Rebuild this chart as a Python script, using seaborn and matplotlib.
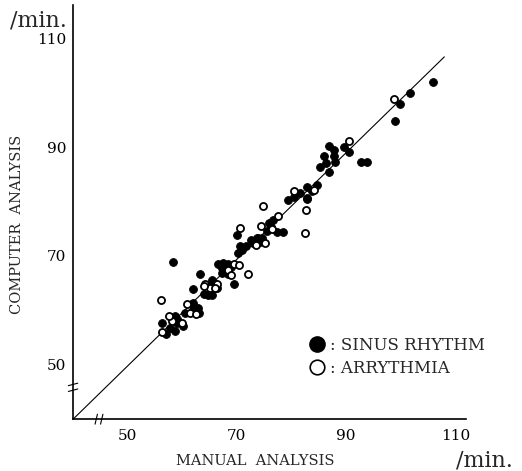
"""
Computer vs manual heart-rate analysis (scatter with identity line).
"""

import pandas as pd
import matplotlib.pyplot as plt
import seaborn as sns
from matplotlib.lines import Line2D

# Data (beats / min)
sinus_manual = [106, 101.8, 99.8, 98.9, 92.8, 93.9, 90.6, 89.7, 86.8, 85.9, 87.7, 87.7, 87.9,
                86.8, 84.6, 82.9, 82.8, 81.5, 79.4, 82.8, 76.7, 75.8, 76.3, 77.4, 78.5, 75.6,
                73.8, 74.6, 73.0, 70.1, 73.6, 74.3, 73.2, 70.6, 71.6, 71.0, 66.6, 67.5, 68.3,
                67.3, 67.8, 67.2, 68.4, 63.3, 69.4, 65.5, 65.7, 62.0, 64.8, 65.5, 66.4, 65.5,
                61.8, 62.0, 62.8, 62.0, 63.1, 58.7, 59.0, 58.3, 59.1, 60.2, 56.3, 57.8, 58.7,
                57.1, 58.3, 85.3, 86.3, 80.5, 83.8, 70.2, 69.0, 72.5, 64.0, 60.5]
sinus_computer = [102, 100, 98, 94.8, 87.2, 87.2, 89.2, 90.1, 90.3, 88.4, 89.4, 88.3, 87.2,
                  85.5, 83.1, 82.6, 80.6, 81.5, 80.2, 80.4, 76.6, 76.0, 75.3, 74.4, 74.4, 74.6,
                  73.3, 73.3, 72.4, 73.8, 73.3, 72.5, 72.5, 71.8, 71.8, 71.1, 68.5, 68.7, 68.5,
                  67.8, 67.6, 66.9, 66.7, 66.7, 64.9, 65.6, 64.9, 63.9, 62.9, 62.9, 64.1, 63.9,
                  61.2, 61.4, 60.5, 60.1, 59.6, 59.0, 58.5, 58.5, 57.7, 57.2, 57.7, 56.8, 56.3,
                  55.7, 68.9, 86.4, 87.0, 80.8, 82.0, 70.6, 68.0, 73.0, 63.0, 59.5]

arr_manual = [98.7, 90.6, 84.2, 74.7, 82.6, 77.6, 74.5, 82.4, 76.5, 75.2, 70.5, 69.5, 68.4,
              72.1, 64.2, 66.4, 65.1, 66.0, 63.9, 60.9, 56.1, 61.5, 62.6, 58.2, 60.0, 56.3,
              69.0, 70.3, 57.5, 73.5, 80.5]
arr_computer = [98.9, 91.2, 82.2, 79.1, 78.4, 77.3, 75.5, 74.2, 74.9, 72.4, 75.1, 68.5, 67.4,
                66.7, 64.9, 64.9, 64.1, 64.1, 64.5, 61.2, 61.9, 59.6, 59.4, 58.1, 57.7, 56.1,
                66.5, 68.3, 59.0, 72.0, 82.0]

# regression / identity line end points as drawn
line_x = [40, 108]
line_y = [40, 106.6]

x_ticks = [50, 70, 90, 110]
y_ticks = [50, 70, 90, 110]

sinus = pd.DataFrame({'manual': sinus_manual, 'computer': sinus_computer})
arr = pd.DataFrame({'manual': arr_manual, 'computer': arr_computer})

sns.set_style('white')
plt.rcParams['font.family'] = ['DejaVu Serif', 'Liberation Serif']

fig = plt.figure(figsize=(5.22, 4.71), dpi=100)
ax = fig.add_axes([0.14, 0.11, 0.752, 0.879])

ax.plot(line_x, line_y, color='black', linewidth=0.8, zorder=1)

sns.scatterplot(data=sinus, x='manual', y='computer', ax=ax, color='black',
                edgecolor='black', s=32, linewidth=0.6, zorder=3)
sns.scatterplot(data=arr, x='manual', y='computer', ax=ax, facecolor='white',
                edgecolor='black', s=26, linewidth=1.3, zorder=4)

ax.set_xlim(40, 111.9)
ax.set_ylim(40, 116.1)

for side in ['top', 'right']:
    ax.spines[side].set_visible(False)
for side in ['left', 'bottom']:
    ax.spines[side].set_linewidth(1.2)
    ax.spines[side].set_color('black')

ax.set_xticks(x_ticks)
ax.set_yticks(y_ticks)
ax.set_xticks([60, 80, 100], minor=True)
ax.set_yticks([60, 80, 100], minor=True)
ax.tick_params(axis='both', which='both', direction='in', length=3, width=0.8,
               labelsize=11, colors='black')
ax.tick_params(axis='x', pad=7)
ax.tick_params(axis='y', pad=5)

ax.set_xlabel('MANUAL  ANALYSIS', fontsize=10.5)
ax.set_ylabel('COMPUTER  ANALYSIS', fontsize=10.5)
ax.xaxis.set_label_coords(0.465, -0.085)
ax.yaxis.set_label_coords(-0.125, 0.47)

# units
ax.text(-0.16, 0.963, '/min.', transform=ax.transAxes, fontsize=16, ha='left', va='center')
ax.text(0.975, -0.1, '/min.', transform=ax.transAxes, fontsize=16, ha='left', va='center')

# axis break marks
for dy in (-0.35, 0.35):
    ax.plot([-0.012, 0.012], [0.074 + dy * 0.02, 0.08 + dy * 0.02], transform=ax.transAxes,
            color='black', linewidth=0.8, clip_on=False)
for dx in (-0.35, 0.35):
    ax.plot([0.063 + dx * 0.02, 0.069 + dx * 0.02], [-0.012, 0.012], transform=ax.transAxes,
            color='black', linewidth=0.8, clip_on=False)

# legend
handles = [Line2D([], [], marker='o', linestyle='', markersize=11, markerfacecolor='black',
                  markeredgecolor='black'),
           Line2D([], [], marker='o', linestyle='', markersize=10.5, markerfacecolor='white',
                  markeredgecolor='black', markeredgewidth=1.2)]
ax.legend(handles, [': SINUS RHYTHM', ': ARRYTHMIA'], loc='center left',
          bbox_to_anchor=(0.58, 0.15), frameon=False, fontsize=12,
          handletextpad=0.15, handlelength=1.2, labelspacing=0.35, borderaxespad=0)

plt.savefig('out.png', dpi=100)
